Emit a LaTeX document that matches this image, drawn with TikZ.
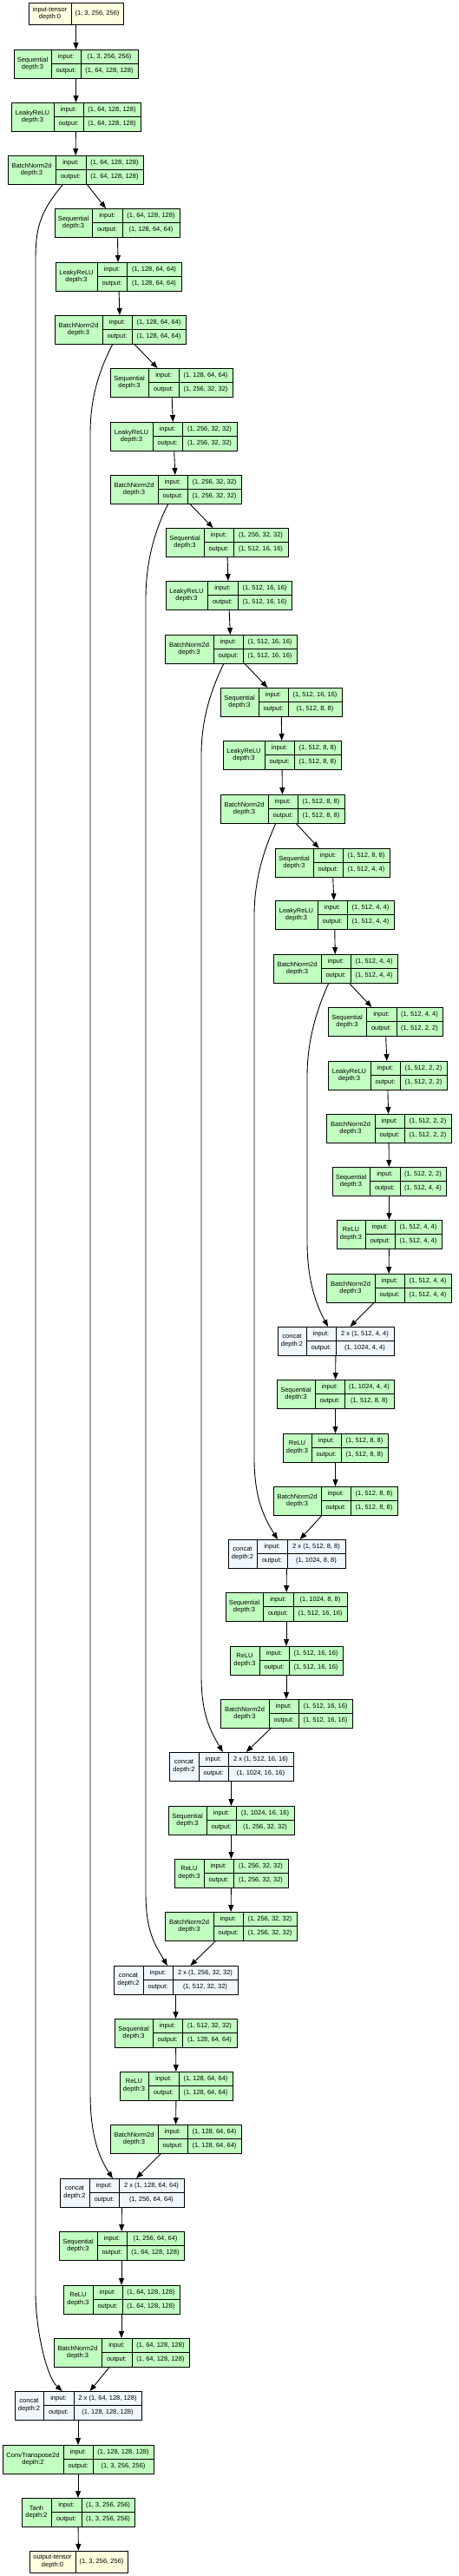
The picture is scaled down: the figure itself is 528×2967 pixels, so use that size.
\documentclass[tikz,border=0pt]{standalone}
\usepackage{fontspec}
\setmainfont{Liberation Sans}
\usetikzlibrary{arrows.meta}

\definecolor{modfill}{HTML}{C1FFC1}
\definecolor{funcfill}{HTML}{F0F8FF}
\definecolor{tensorfill}{HTML}{FFFFE0}

\tikzset{
  layerbox/.style={draw, rectangle, line width=0.7pt, inner sep=0pt, outer sep=0pt, minimum height=33pt},
  divider/.style={line width=0.7pt},
  celltext/.style={font=\fontsize{7.5}{8.7}\selectfont, align=center, inner sep=0pt},
  link/.style={line width=0.9pt, -{Triangle[length=8pt,width=6pt]}},
}

\def\splitx#1/#2/#3/#4\relax{\def\cola{#1}\def\colb{#2}\def\colc{#3}\def\cold{#4}}
\def\splitt#1/#2/#3\relax{\def\cola{#1}\def\colb{#2}\def\colc{#3}}

% #1 name, #2 fill, #3 column edges, #4 top, #5 title, #6 input, #7 output
\newcommand\layer[7]{%
  \splitx#3\relax
  \pgfmathsetmacro\recw{\cold-\cola}%
  \node[layerbox, fill=#2, minimum width=\recw pt, anchor=north west] (#1) at (\cola,#4) {};
  \draw[divider] (\colb,#4) -- (\colb,#4+33) (\colc,#4) -- (\colc,#4+33) (\colb,#4+16.5) -- (\cold,#4+16.5);
  \node[celltext] at ({(\cola+\colb)/2},#4+16.5) {#5};
  \node[celltext] at ({(\colb+\colc)/2},#4+8.25) {input:};
  \node[celltext] at ({(\colb+\colc)/2},#4+24.75) {output:};
  \node[celltext] at ({(\colc+\cold)/2},#4+8.25) {#6};
  \node[celltext] at ({(\colc+\cold)/2},#4+24.75) {#7};
}

% #1 name, #2 column edges, #3 top, #4 title, #5 shape
\newcommand\tensor[5]{%
  \splitt#2\relax
  \pgfmathsetmacro\recw{\colc-\cola}%
  \node[layerbox, fill=tensorfill, minimum width=\recw pt, minimum height=25pt, anchor=north west] (#1) at (\cola,#3) {};
  \draw[divider] (\colb,#3) -- (\colb,#3+25);
  \node[celltext] at ({(\cola+\colb)/2},#3+12.5) {#4};
  \node[celltext] at ({(\colb+\colc)/2},#3+12.5) {#5};
}

\begin{document}
\begin{tikzpicture}[x=1pt,y=-1pt]
  \useasboundingbox (0,0) rectangle (528,2967);

  % encoder
  \tensor{intensor}{33/82/142}{3}{input-tensor\\depth:0}{(1, 3, 256, 256)}
  \layer{seq1}{modfill}{16/59/93/159}{57}{Sequential\\depth:3}{(1, 3, 256, 256)}{(1, 64, 128, 128)}
  \layer{lrelu1}{modfill}{13/62/96/162}{118}{LeakyReLU\\depth:3}{(1, 64, 128, 128)}{(1, 64, 128, 128)}
  \layer{bn1}{modfill}{9/64/99/165}{179}{BatchNorm2d\\depth:3}{(1, 64, 128, 128)}{(1, 64, 128, 128)}
  \layer{seq2}{modfill}{63/106/141/207}{240}{Sequential\\depth:3}{(1, 64, 128, 128)}{(1, 128, 64, 64)}
  \layer{lrelu2}{modfill}{64/112/146/209}{302}{LeakyReLU\\depth:3}{(1, 128, 64, 64)}{(1, 128, 64, 64)}
  \layer{bn2}{modfill}{63/118/152/214}{363}{BatchNorm2d\\depth:3}{(1, 128, 64, 64)}{(1, 128, 64, 64)}
  \layer{seq3}{modfill}{127/171/206/268}{424}{Sequential\\depth:3}{(1, 128, 64, 64)}{(1, 256, 32, 32)}
  \layer{lrelu3}{modfill}{127/176/210/273}{486}{LeakyReLU\\depth:3}{(1, 256, 32, 32)}{(1, 256, 32, 32)}
  \layer{bn3}{modfill}{127/182/216/278}{547}{BatchNorm2d\\depth:3}{(1, 256, 32, 32)}{(1, 256, 32, 32)}
  \layer{seq4}{modfill}{191/235/269/332}{608}{Sequential\\depth:3}{(1, 256, 32, 32)}{(1, 512, 16, 16)}
  \layer{lrelu4}{modfill}{191/239/274/336}{669}{LeakyReLU\\depth:3}{(1, 512, 16, 16)}{(1, 512, 16, 16)}
  \layer{bn4}{modfill}{190/246/280/342}{731}{BatchNorm2d\\depth:3}{(1, 512, 16, 16)}{(1, 512, 16, 16)}
  \layer{seq5}{modfill}{254/298/332/394}{792}{Sequential\\depth:3}{(1, 512, 16, 16)}{(1, 512, 8, 8)}
  \layer{lrelu5}{modfill}{257/305/339/393}{853}{LeakyReLU\\depth:3}{(1, 512, 8, 8)}{(1, 512, 8, 8)}
  \layer{bn5}{modfill}{254/309/343/397}{915}{BatchNorm2d\\depth:3}{(1, 512, 8, 8)}{(1, 512, 8, 8)}
  \layer{seq6}{modfill}{317/361/395/449}{977}{Sequential\\depth:3}{(1, 512, 8, 8)}{(1, 512, 4, 4)}
  \layer{lrelu6}{modfill}{317/366/400/454}{1037}{LeakyReLU\\depth:3}{(1, 512, 4, 4)}{(1, 512, 4, 4)}
  \layer{bn6}{modfill}{315/370/404/458}{1099}{BatchNorm2d\\depth:3}{(1, 512, 4, 4)}{(1, 512, 4, 4)}
  \layer{seq7}{modfill}{378/422/457/510}{1160}{Sequential\\depth:3}{(1, 512, 4, 4)}{(1, 512, 2, 2)}
  \layer{lrelu7}{modfill}{378/427/461/515}{1222}{LeakyReLU\\depth:3}{(1, 512, 2, 2)}{(1, 512, 2, 2)}
  \layer{bn7}{modfill}{376/432/466/520}{1283}{BatchNorm2d\\depth:3}{(1, 512, 2, 2)}{(1, 512, 2, 2)}

  % decoder
  \layer{seq8}{modfill}{383/426/461/514}{1344}{Sequential\\depth:3}{(1, 512, 2, 2)}{(1, 512, 4, 4)}
  \layer{relu8}{modfill}{388/421/455/509}{1405}{ReLU\\depth:3}{(1, 512, 4, 4)}{(1, 512, 4, 4)}
  \layer{bn8}{modfill}{376/432/466/520}{1467}{BatchNorm2d\\depth:3}{(1, 512, 4, 4)}{(1, 512, 4, 4)}
  \layer{cat1}{funcfill}{320/353/387/454}{1528}{concat\\depth:2}{2 x (1, 512, 4, 4)}{(1, 1024, 4, 4)}
  \layer{seq9}{modfill}{319/363/397/454}{1589}{Sequential\\depth:3}{(1, 1024, 4, 4)}{(1, 512, 8, 8)}
  \layer{relu9}{modfill}{326/359/393/447}{1651}{ReLU\\depth:3}{(1, 512, 8, 8)}{(1, 512, 8, 8)}
  \layer{bn9}{modfill}{315/370/404/458}{1712}{BatchNorm2d\\depth:3}{(1, 512, 8, 8)}{(1, 512, 8, 8)}
  \layer{cat2}{funcfill}{263/296/331/398}{1773}{concat\\depth:2}{2 x (1, 512, 8, 8)}{(1, 1024, 8, 8)}
  \layer{seq10}{modfill}{260/303/338/400}{1834}{Sequential\\depth:3}{(1, 1024, 8, 8)}{(1, 512, 16, 16)}
  \layer{relu10}{modfill}{265/299/333/395}{1896}{ReLU\\depth:3}{(1, 512, 16, 16)}{(1, 512, 16, 16)}
  \layer{bn10}{modfill}{254/310/344/406}{1957}{BatchNorm2d\\depth:3}{(1, 512, 16, 16)}{(1, 512, 16, 16)}
  \layer{cat3}{funcfill}{195/229/263/338}{2018}{concat\\depth:2}{2 x (1, 512, 16, 16)}{(1, 1024, 16, 16)}
  \layer{seq11}{modfill}{194/238/272/339}{2080}{Sequential\\depth:3}{(1, 1024, 16, 16)}{(1, 256, 32, 32)}
  \layer{relu11}{modfill}{201/235/269/332}{2141}{ReLU\\depth:3}{(1, 256, 32, 32)}{(1, 256, 32, 32)}
  \layer{bn11}{modfill}{190/246/280/342}{2202}{BatchNorm2d\\depth:3}{(1, 256, 32, 32)}{(1, 256, 32, 32)}
  \layer{cat4}{funcfill}{131/165/199/274}{2264}{concat\\depth:2}{2 x (1, 256, 32, 32)}{(1, 512, 32, 32)}
  \layer{seq12}{modfill}{132/176/210/273}{2325}{Sequential\\depth:3}{(1, 512, 32, 32)}{(1, 128, 64, 64)}
  \layer{relu12}{modfill}{138/171/206/268}{2386}{ReLU\\depth:3}{(1, 128, 64, 64)}{(1, 128, 64, 64)}
  \layer{bn12}{modfill}{127/182/216/278}{2447}{BatchNorm2d\\depth:3}{(1, 128, 64, 64)}{(1, 128, 64, 64)}
  \layer{cat5}{funcfill}{69/103/137/212}{2509}{concat\\depth:2}{2 x (1, 128, 64, 64)}{(1, 256, 64, 64)}
  \layer{seq13}{modfill}{68/112/146/212}{2570}{Sequential\\depth:3}{(1, 256, 64, 64)}{(1, 64, 128, 128)}
  \layer{relu13}{modfill}{73/107/141/207}{2632}{ReLU\\depth:3}{(1, 64, 128, 128)}{(1, 64, 128, 128)}
  \layer{bn13}{modfill}{62/117/152/218}{2693}{BatchNorm2d\\depth:3}{(1, 64, 128, 128)}{(1, 64, 128, 128)}
  \layer{cat6}{funcfill}{17/50/85/163}{2754}{concat\\depth:2}{2 x (1, 64, 128, 128)}{(1, 128, 128, 128)}
  \layer{convt}{modfill}{3/73/107/177}{2816}{ConvTranspose2d\\depth:2}{(1, 128, 128, 128)}{(1, 3, 256, 256)}
  \layer{tanh}{modfill}{25/59/94/155}{2877}{Tanh\\depth:2}{(1, 3, 256, 256)}{(1, 3, 256, 256)}
  \tensor{outtensor}{34/87/147}{2938}{output-tensor\\depth:0}{(1, 3, 256, 256)}

  % main chain
  \draw[link] (intensor) -- (seq1);  \draw[link] (seq1) -- (lrelu1);  \draw[link] (lrelu1) -- (bn1);
  \draw[link] (bn1) -- (seq2);       \draw[link] (seq2) -- (lrelu2);  \draw[link] (lrelu2) -- (bn2);
  \draw[link] (bn2) -- (seq3);       \draw[link] (seq3) -- (lrelu3);  \draw[link] (lrelu3) -- (bn3);
  \draw[link] (bn3) -- (seq4);       \draw[link] (seq4) -- (lrelu4);  \draw[link] (lrelu4) -- (bn4);
  \draw[link] (bn4) -- (seq5);       \draw[link] (seq5) -- (lrelu5);  \draw[link] (lrelu5) -- (bn5);
  \draw[link] (bn5) -- (seq6);       \draw[link] (seq6) -- (lrelu6);  \draw[link] (lrelu6) -- (bn6);
  \draw[link] (bn6) -- (seq7);       \draw[link] (seq7) -- (lrelu7);  \draw[link] (lrelu7) -- (bn7);
  \draw[link] (bn7) -- (seq8);       \draw[link] (seq8) -- (relu8);   \draw[link] (relu8) -- (bn8);
  \draw[link] (bn8) -- (cat1);       \draw[link] (cat1) -- (seq9);    \draw[link] (seq9) -- (relu9);
  \draw[link] (relu9) -- (bn9);      \draw[link] (bn9) -- (cat2);     \draw[link] (cat2) -- (seq10);
  \draw[link] (seq10) -- (relu10);   \draw[link] (relu10) -- (bn10);  \draw[link] (bn10) -- (cat3);
  \draw[link] (cat3) -- (seq11);     \draw[link] (seq11) -- (relu11); \draw[link] (relu11) -- (bn11);
  \draw[link] (bn11) -- (cat4);      \draw[link] (cat4) -- (seq12);   \draw[link] (seq12) -- (relu12);
  \draw[link] (relu12) -- (bn12);    \draw[link] (bn12) -- (cat5);    \draw[link] (cat5) -- (seq13);
  \draw[link] (seq13) -- (relu13);   \draw[link] (relu13) -- (bn13);  \draw[link] (bn13) -- (cat6);
  \draw[link] (cat6) -- (convt);     \draw[link] (convt) -- (tanh);   \draw[link] (tanh) -- (outtensor);

  % skip connections
  \draw[link] (bn1) .. controls (44.5,245.5) and (41,265) .. (41,300) -- (41,2640)
    .. controls (41,2685) and (54,2738) .. (cat6);
  \draw[link] (bn2) .. controls (113,429) and (104,460) .. (104,500) -- (104,2410)
    .. controls (104,2460) and (114,2484.5) .. (cat5);
  \draw[link] (bn3) .. controls (177,613) and (168,650) .. (168,690) -- (168,2180)
    .. controls (168,2225) and (178.5,2239.5) .. (cat4);
  \draw[link] (bn4) .. controls (242,797) and (232,830) .. (232,870) -- (232,1930)
    .. controls (232,1975) and (242.5,1993.5) .. (cat3);
  \draw[link] (bn5) .. controls (303,981) and (293,1015) .. (293,1055) -- (293,1680)
    .. controls (293,1725) and (304.5,1748.5) .. (cat2);
  \draw[link] (bn6) .. controls (364,1165) and (354,1200) .. (354,1240) -- (354,1430)
    .. controls (354,1475) and (364.5,1503) .. (cat1);
\end{tikzpicture}
\end{document}
